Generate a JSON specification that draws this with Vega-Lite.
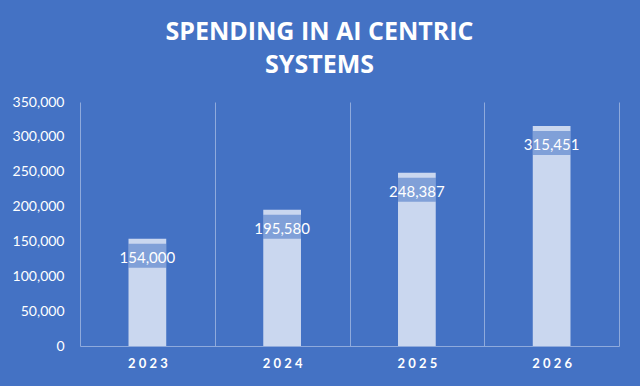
{
  "$schema": "https://vega.github.io/schema/vega-lite/v6.json",
  "width": 539,
  "height": 244,
  "autosize": "none",
  "padding": {"left": 80, "top": 102, "right": 21, "bottom": 40},
  "background": "#4472C4",
  "view": {"stroke": null},
  "title": {
    "text": ["SPENDING IN AI CENTRIC", "SYSTEMS"],
    "color": "white",
    "font": "Open Sans",
    "fontSize": 25,
    "fontWeight": "bold",
    "lineHeight": 33,
    "anchor": "middle",
    "dx": -30,
    "offset": 17
  },
  "data": {
    "values": [
      {"year": "2023", "spending": 154000},
      {"year": "2024", "spending": 195580},
      {"year": "2025", "spending": 248387},
      {"year": "2026", "spending": 315451}
    ]
  },
  "encoding": {
    "x": {
      "field": "year",
      "type": "nominal",
      "scale": {"paddingInner": 0, "paddingOuter": 0},
      "axis": {
        "title": null,
        "labelAngle": 0,
        "labelColor": "white",
        "labelFont": "Lato",
        "labelFontSize": 13,
        "labelFontWeight": "bold",
        "labelPadding": 11,
        "labelExpr": "join(split(datum.label, ''), ' ')",
        "ticks": false,
        "grid": true,
        "tickBand": "extent",
        "gridColor": "#8FAADC",
        "gridWidth": 1,
        "domainColor": "#8FAADC",
        "domainWidth": 1
      }
    },
    "y": {
      "field": "spending",
      "type": "quantitative",
      "scale": {"domain": [0, 350000]},
      "axis": {
        "title": null,
        "values": [0, 50000, 100000, 150000, 200000, 250000, 300000, 350000],
        "format": ",.0f",
        "labelColor": "white",
        "labelFont": "Lato",
        "labelFontSize": 14,
        "labelPadding": 16,
        "labelOverlap": false,
        "grid": false,
        "ticks": false,
        "domain": false
      }
    }
  },
  "layer": [
    {
      "mark": {"type": "bar", "width": {"band": 0.28}, "color": "#CAD7EF"}
    },
    {
      "mark": {"type": "tick", "size": 38, "thickness": 24, "yOffset": 17, "color": "#4472C4", "opacity": 0.55}
    },
    {
      "mark": {"type": "text", "color": "white", "font": "Lato", "fontSize": 15, "dy": 19, "baseline": "middle"},
      "encoding": {"text": {"field": "spending", "type": "quantitative", "format": ",.0f"}}
    }
  ]
}
